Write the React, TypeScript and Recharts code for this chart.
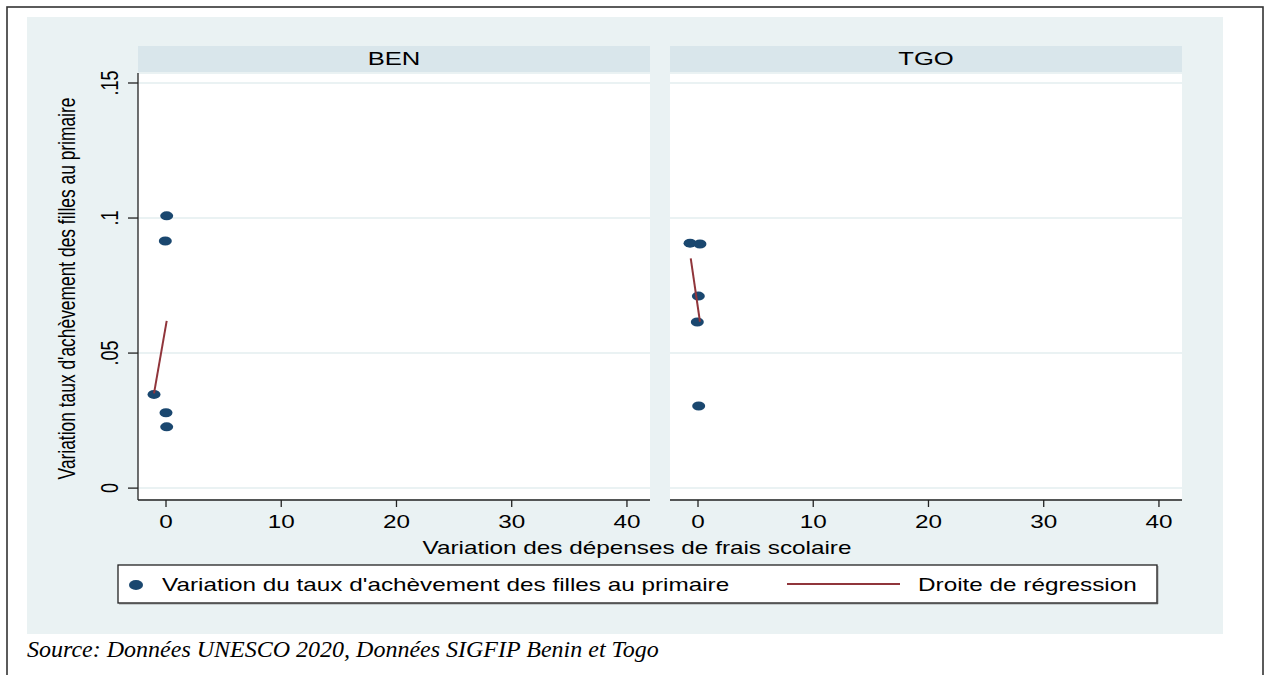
import React from "react";
import { ScatterChart, Scatter, XAxis, YAxis, CartesianGrid } from "recharts";

// axis ticks
const xTicks = [0, 10, 20, 30, 40];
const yTicks = [0, 0.05, 0.1, 0.15];
const yTickLabels = ["0", ".05", ".1", ".15"];

// BEN: spending variation vs completion rate variation
const benX = [0.06, -0.06, -1.04, 0, 0.06];
const benY = [0.1008, 0.0915, 0.0347, 0.0279, 0.0227];
const benFitX = [-1.04, 0.06];
const benFitY = [0.0351, 0.0619];

// TGO
const tgoX = [-0.69, 0.17, 0.03, -0.06, 0.06];
const tgoY = [0.0907, 0.0904, 0.0711, 0.0615, 0.0304];
const tgoFitX = [-0.63, 0.17];
const tgoFitY = [0.0851, 0.0616];

const toPoints = (xs: number[], ys: number[]) => xs.map((x, i) => ({ x, y: ys[i] }));

const NAVY = "#1a476f";
const MAROON = "#90353b";
const BG = "#eaf2f3";
const STRIP = "#d9e6eb";
const GRID = "#eaf2f3";
const AXIS = "#222";
const SANS = "'Liberation Sans', Arial, Helvetica, sans-serif";
const SERIF = "'Liberation Serif', 'Times New Roman', serif";
const STRETCH = 1.35; // the original export is stretched horizontally

function XTick({ x, y, payload }: any) {
  return (
    <g transform={`translate(${x},${y}) scale(${STRETCH},1)`}>
      <text y={19} textAnchor="middle" fontSize={18} fontFamily={SANS} fill="#000">
        {payload.value}
      </text>
    </g>
  );
}

function YTick({ x, y, payload }: any) {
  const i = yTicks.indexOf(payload.value);
  return (
    <g transform={`translate(${x - 8},${y}) scale(${STRETCH},1)`}>
      <text transform="rotate(-90)" textAnchor="middle" fontSize={18} fontFamily={SANS} fill="#000">
        {i >= 0 ? yTickLabels[i] : String(payload.value)}
      </text>
    </g>
  );
}

function YTitle({ viewBox }: any) {
  const cx = viewBox.x + 48;
  const cy = viewBox.y + viewBox.height / 2 + 2;
  return (
    <g transform={`translate(${cx},${cy}) scale(${STRETCH},1)`}>
      <text transform="rotate(-90)" textAnchor="middle" fontSize={17.4} fontFamily={SANS} fill="#000">
        Variation taux d'achèvement des filles au primaire
      </text>
    </g>
  );
}

const Dot = (p: any) => <ellipse cx={p.cx} cy={p.cy} rx={6.5} ry={4.5} fill={NAVY} />;

function Panel({ points, fit, left, width, showY }: any) {
  return (
    <div style={{ position: "absolute", left, top: 46 }}>
      <ScatterChart width={width} height={494} margin={{ top: 27, right: 10, bottom: 0, left: showY ? 0 : 10 }}>
        <CartesianGrid vertical={false} stroke={GRID} strokeWidth={2} fill="#fff" fillOpacity={1} />
        <XAxis
          type="number"
          dataKey="x"
          domain={[-2.43, 42]}
          ticks={xTicks}
          interval={0}
          allowDataOverflow
          height={40}
          tickSize={7}
          axisLine={{ stroke: AXIS, strokeWidth: 1.3 }}
          tickLine={{ stroke: AXIS, strokeWidth: 1.3 }}
          tick={<XTick />}
        />
        <YAxis
          type="number"
          dataKey="y"
          domain={[-0.0044, 0.1537]}
          ticks={yTicks}
          interval={0}
          allowDataOverflow
          width={111}
          hide={!showY}
          tickSize={10}
          axisLine={{ stroke: AXIS, strokeWidth: 1.3 }}
          tickLine={{ stroke: AXIS, strokeWidth: 1.3 }}
          tick={<YTick />}
          label={{ content: <YTitle /> }}
        />
        <Scatter data={points} shape={Dot} isAnimationActive={false} />
        <Scatter
          data={fit}
          line={{ stroke: MAROON, strokeWidth: 2 }}
          shape={() => <g />}
          isAnimationActive={false}
        />
      </ScatterChart>
    </div>
  );
}

function StretchText({ x, y, children, anchor = "start", size = 18 }: any) {
  return (
    <g transform={`translate(${x},${y}) scale(${STRETCH},1)`}>
      <text textAnchor={anchor} fontSize={size} fontFamily={SANS} fill="#000">
        {children}
      </text>
    </g>
  );
}

export default function App() {
  return (
    <div style={{ position: "fixed", left: 0, top: 0, width: 1265, height: 675, background: "#fff", overflow: "hidden" }}>
      <svg width={1265} height={675} style={{ position: "absolute", left: 0, top: 0 }}>
        <rect x={7} y={7} width={1256} height={690} fill="none" stroke="#333" strokeWidth={1.6} />
        <rect x={27} y={17} width={1196} height={617} fill={BG} />
        <rect x={138} y={46} width={512} height={27} fill={STRIP} />
        <rect x={670} y={46} width={512} height={27} fill={STRIP} />
        <StretchText x={394} y={65} anchor="middle" size={19}>BEN</StretchText>
        <StretchText x={926} y={65} anchor="middle" size={19}>TGO</StretchText>
        <StretchText x={637} y={554} anchor="middle">Variation des dépenses de frais scolaire</StretchText>
        <rect x={118} y={565} width={1039} height={38} fill="#fff" stroke="#222" strokeWidth={1.3} />
        <line x1={119} y1={603.5} x2={1158} y2={603.5} stroke="#555" strokeWidth={1.5} />
        <line x1={1157.5} y1={566} x2={1157.5} y2={604} stroke="#555" strokeWidth={1.5} />
        <ellipse cx={136} cy={585} rx={7} ry={5} fill={NAVY} />
        <StretchText x={162} y={591}>Variation du taux d'achèvement des filles au primaire</StretchText>
        <line x1={787} y1={584} x2={900} y2={584} stroke={MAROON} strokeWidth={2} />
        <StretchText x={918} y={591}>Droite de régression</StretchText>
        <text x={27} y={657} fontSize={24} fontStyle="italic" fontFamily={SERIF} fill="#000">
          Source: Données UNESCO 2020, Données SIGFIP Benin et Togo
        </text>
      </svg>
      <Panel points={toPoints(benX, benY)} fit={toPoints(benFitX, benFitY)} left={27} width={633} showY />
      <Panel points={toPoints(tgoX, tgoY)} fit={toPoints(tgoFitX, tgoFitY)} left={660} width={532} showY={false} />
    </div>
  );
}
